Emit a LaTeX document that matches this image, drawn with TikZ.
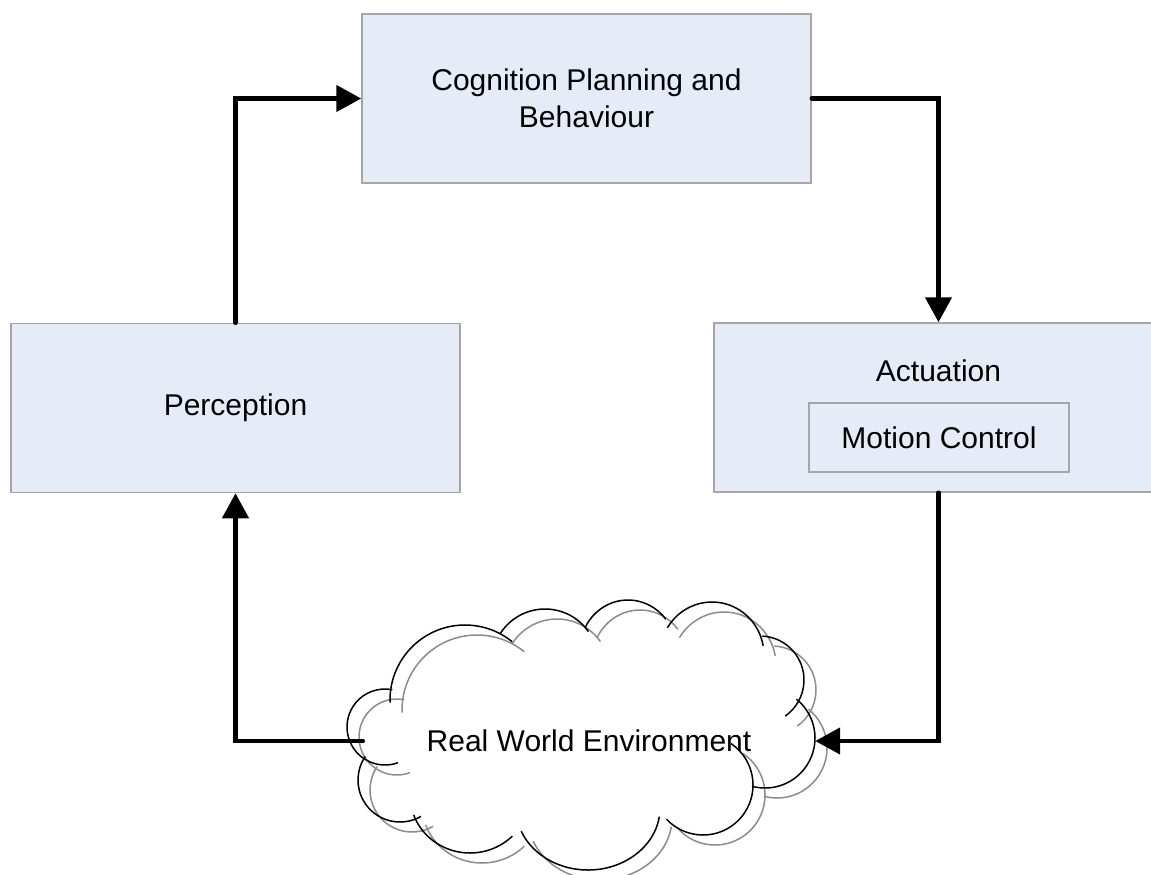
\documentclass[tikz,border=0pt]{standalone}
\usepackage{fontspec}
\setmainfont{Liberation Sans}
\usetikzlibrary{arrows.meta}
\definecolor{boxfill}{HTML}{E6ECF7}
\definecolor{boxline}{HTML}{A6A6A6}
\definecolor{shadowline}{HTML}{8C8C8C}
% one puff of the cloud outline: centre x, centre y, x radius, y radius, start, end
\newcommand\cloudarc[6]{\draw (#1,#2) ++(#5:#3 and #4) arc[start angle=#5,end angle=#6,x radius=#3,y radius=#4];}
\newcommand\cloudoutline{%
  \cloudarc{385}{727}{38}{38}{70}{281}
  \cloudarc{465}{700}{75}{75}{178}{309}
  \cloudarc{545}{662}{53}{53}{212}{325}
  \cloudarc{628}{650}{48}{50}{206}{322}
  \cloudarc{712}{655}{52}{53}{211}{350}
  \cloudarc{760}{680}{44}{44}{273}{415}
  \cloudarc{765}{738}{50}{50}{309}{465}
  \cloudarc{703}{785}{50}{50}{304}{497}
  \cloudarc{588}{808}{72}{62}{8}{158}
  \cloudarc{470}{795}{60}{58}{45}{160}
  \cloudarc{400}{780}{42}{42}{60}{214}
}
\tikzset{
  block/.style={draw=boxline, fill=boxfill, line width=1.5pt, inner sep=0pt,
    minimum width=449pt, minimum height=169pt, align=center},
  innerblock/.style={draw=boxline, fill=boxfill, line width=1.5pt, inner sep=0pt,
    minimum width=260pt, minimum height=69pt},
  label/.style={inner sep=0pt},
  flow/.style={line width=4.5pt, line cap=round, line join=miter,
    -{Triangle[length=25pt,width=26pt]}},
}
\begin{document}
\begin{tikzpicture}[x=1pt,y=-1pt,font=\fontsize{30}{37}\selectfont]
\clip (0,0) rectangle (1151,875);
\fill[white] (0,0) rectangle (1151,875);

% the three process blocks
\node[block] (cog) at (586.5,98.5) {Cognition Planning and\\Behaviour};
\node[block] (per) at (235.5,408) {Perception};
\node[block] (act) at (938.5,407.5) {};
\node[label] (acttext) at (938.5,371) {Actuation};
\node[innerblock] (mc) at (939,437.5) {Motion Control};

% the environment cloud: grey shadow outline, then black outline
\begin{scope}[shift={(12,10)}, draw=shadowline, line width=1.5pt]
  \cloudoutline
\end{scope}
\begin{scope}[draw=black, line width=1.5pt]
  \cloudoutline
\end{scope}
\node[label, minimum width=452pt] (env) at (589,741) {Real World Environment};

% the loop of connectors
\draw[flow] (per.north) |- (cog.west);
\draw[flow] (cog.east) -| (act.north);
\draw[flow] (act.south) |- (env.east);
\draw[flow] (env.west) -| (per.south);
\end{tikzpicture}
\end{document}
